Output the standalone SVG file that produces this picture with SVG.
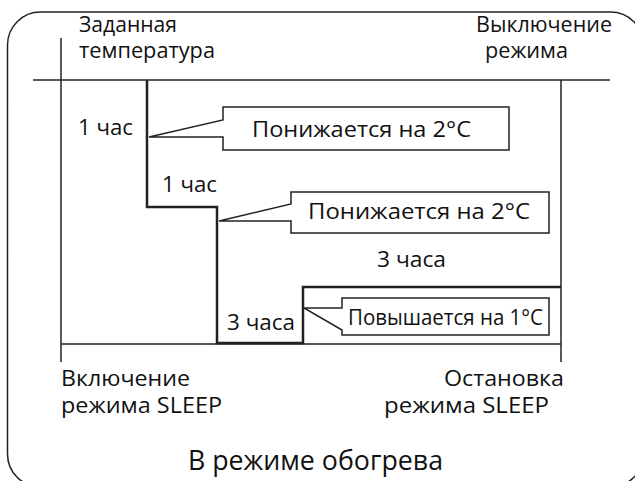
<svg xmlns="http://www.w3.org/2000/svg" width="635" height="481" viewBox="0 0 635 481">
<style>
text{font-family:"Open Sans","Noto Sans","Liberation Sans",sans-serif;fill:#111;font-size:22px}
.lbl{font-size:21px}
.big{font-size:28px}
.thin{fill:none;stroke:#222;stroke-width:1.5}
.thick{fill:none;stroke:#222;stroke-width:2.5}
.callout{fill:#fff;stroke:#222;stroke-width:1.5}
</style>
<rect x="7.5" y="12" width="636" height="475" rx="33" ry="33" class="thin"/>
<g id="connectors">
<line x1="33" y1="80" x2="610" y2="80" class="thin"/>
<line x1="61" y1="38" x2="61" y2="362" class="thin"/>
<line x1="61" y1="344" x2="561" y2="344" class="thin"/>
<line x1="561" y1="80" x2="561" y2="362" class="thin"/>
<polyline points="147,80 147,207 217,207 217,343 303,343 303,287 561,287" class="thick"/>
</g>
<g id="axis-labels">
<text class="lbl" x="79" y="32" textLength="98" lengthAdjust="spacingAndGlyphs">Заданная</text>
<text class="lbl" x="79" y="58" textLength="136" lengthAdjust="spacingAndGlyphs">температура</text>
<text class="lbl" x="476" y="32" textLength="136" lengthAdjust="spacingAndGlyphs">Выключение</text>
<text class="lbl" x="485" y="58" textLength="83" lengthAdjust="spacingAndGlyphs">режима</text>
<text class="lbl" x="61" y="386" textLength="129" lengthAdjust="spacingAndGlyphs">Включение</text>
<text class="lbl" x="61" y="413" textLength="161" lengthAdjust="spacingAndGlyphs">режима SLEEP</text>
<text class="lbl" x="444" y="386" textLength="120" lengthAdjust="spacingAndGlyphs">Остановка</text>
<text class="lbl" x="384" y="413" textLength="165" lengthAdjust="spacingAndGlyphs">режима SLEEP</text>
<text x="188" y="470" class="big" textLength="255" lengthAdjust="spacingAndGlyphs">В режиме обогрева</text>
</g>
<g id="durations">
<text x="78" y="135" textLength="55" lengthAdjust="spacingAndGlyphs">1 час</text>
<text x="162" y="192" textLength="55" lengthAdjust="spacingAndGlyphs">1 час</text>
<text x="377" y="267" textLength="69" lengthAdjust="spacingAndGlyphs">3 часа</text>
<text x="227" y="330" textLength="68" lengthAdjust="spacingAndGlyphs">3 часа</text>
</g>
<g id="callout1">
<path d="M223,107 H509 V150 H223 V137 H149 L223,120 Z" class="callout"/>
<text x="252" y="137" textLength="219" lengthAdjust="spacingAndGlyphs">Понижается на 2°С</text>
</g>
<g id="callout2">
<path d="M291,192 H549 V233 H291 V221 H219 L291,204 Z" class="callout"/>
<text x="308" y="219" textLength="222" lengthAdjust="spacingAndGlyphs">Понижается на 2°С</text>
</g>
<g id="callout3">
<path d="M342,298 H549 V335 H342 V330 L304,308 H342 Z" class="callout"/>
<text x="348" y="325" textLength="195" lengthAdjust="spacingAndGlyphs">Повышается на 1°С</text>
</g>
</svg>
